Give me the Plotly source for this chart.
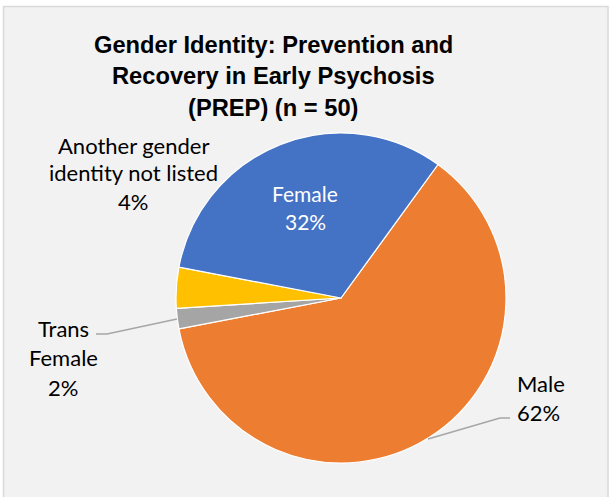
import plotly.graph_objects as go

labels = ["Male", "Trans Female", "Another gender identity not listed", "Female"]
counts = [31, 1, 2, 16]
colors = ["#ED7D31", "#A5A5A5", "#FFC000", "#4472C4"]
title_lines = ["Gender Identity: Prevention and", "Recovery in Early Psychosis", "(PREP) (n = 50)"]

W, H = 610, 497
total = sum(counts)
pcts = [f"{round(100 * c / total)}%" for c in counts]

cx, cy, r = 341, 298, 165

fig = go.Figure(go.Pie(
    labels=labels, values=counts, sort=False, direction="clockwise", rotation=36,
    marker=dict(colors=colors, line=dict(color="white", width=1.2)),
    textinfo="none", hoverinfo="label+percent", showlegend=False,
    domain=dict(x=[(cx - r) / W, (cx + r) / W], y=[1 - (cy + r) / H, 1 - (cy - r) / H]),
))

def px(x, y):
    return x / W, 1 - y / H

anns = []
def add_lines(lines, x, y0, dy, color="#000000", anchor="center", size=22):
    for i, t in enumerate(lines):
        xx, yy = px(x, y0 + i * dy)
        anns.append(dict(text=t, x=xx, y=yy, xref="paper", yref="paper", showarrow=False,
                         xanchor=anchor, yanchor="middle",
                         font=dict(family="Lato, Carlito, sans-serif", size=size, color=color)))

# Title
for i, t in enumerate(title_lines):
    xx, yy = px(273, 45 + i * 31.5)
    anns.append(dict(text=f"<b>{t}</b>", x=xx, y=yy, xref="paper", yref="paper", showarrow=False,
                     xanchor="center", yanchor="middle",
                     font=dict(family="Liberation Sans, Arial, sans-serif", size=23.7, color="#000000")))

# Data labels
add_lines(["Female", pcts[3]], 305, 193, 28, color="#FFFFFF", size=21)
add_lines(["Another gender", "identity not listed", pcts[2]], 133, 145, 28)
add_lines(["Trans", "Female", pcts[1]], 63, 328, 29.5)
add_lines(["Male", pcts[0]], 515, 383, 29, anchor="left")

def path(pts):
    s = ""
    for i, (x, y) in enumerate(pts):
        xx, yy = px(x, y)
        s += ("M" if i == 0 else "L") + f"{xx},{yy} "
    return s

shapes = [
    dict(type="rect", xref="paper", yref="paper", x0=3.5 / W, x1=1 - 2 / W, y0=-0.01, y1=1 - 6.5 / H,
         fillcolor="#F2F2F2", line=dict(color="#D9D9D9", width=1.5), layer="below"),
    dict(type="path", xref="paper", yref="paper", path=path([(96, 334), (107, 334), (177, 319)]),
         line=dict(color="#A6A6A6", width=1.5)),
    dict(type="path", xref="paper", yref="paper", path=path([(510, 418), (500, 418), (428, 439)]),
         line=dict(color="#A6A6A6", width=1.5)),
]

fig.update_layout(
    width=W, height=H, margin=dict(l=0, r=0, t=0, b=0),
    paper_bgcolor="#FFFFFF", plot_bgcolor="#FFFFFF",
    annotations=anns, shapes=shapes,
)

fig.write_html("out.html", config={"displayModeBar": False},
               post_script="document.body.style.margin='0px';document.body.style.overflow='hidden';")
